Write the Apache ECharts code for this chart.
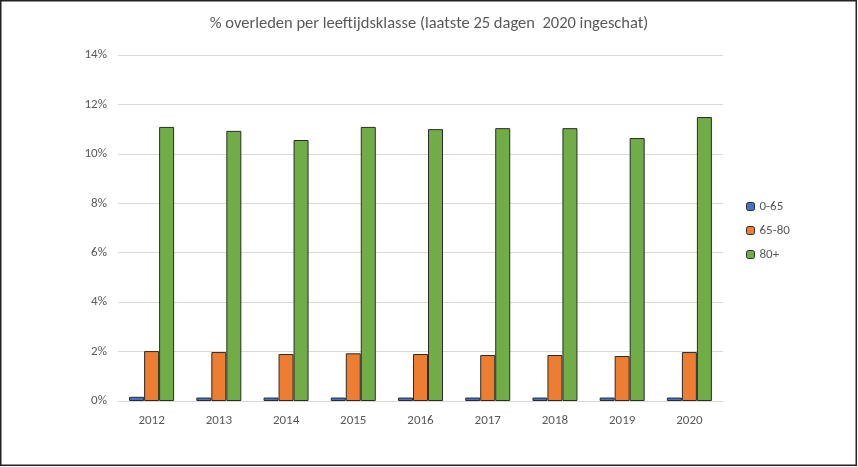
<!DOCTYPE html>
<html>
<head>
<meta charset="utf-8">
<script src="https://cdn.jsdelivr.net/npm/echarts@6/dist/echarts.min.js"></script>
<style>html,body{margin:0;padding:0;background:#fff;}#c{width:858px;height:467px;}</style>
</head>
<body>
<div id="c"></div>
<script>
const categories = ['2012','2013','2014','2015','2016','2017','2018','2019','2020'];
const s0_65 = [0.17,0.14,0.14,0.14,0.14,0.14,0.14,0.14,0.14];
const s65_80 = [2.02,1.98,1.90,1.93,1.90,1.86,1.86,1.82,1.98];
const s80plus = [11.09,10.93,10.56,11.09,11.00,11.04,11.04,10.64,11.49];
const seriesNames = ['0-65','65-80','80+'];
const colors = ['#4472C4','#ED7D31','#70AD47'];

const chart = echarts.init(document.getElementById('c'));
const font = 'Calibri, Carlito, "Open Sans", "Liberation Sans", sans-serif';
const mk = (name, data, i) => ({
  name, type: 'bar', data,
  barWidth: 15, barGap: '0%', barCategoryGap: '33%',
  itemStyle: { color: colors[i], borderColor: '#2b2b2b', borderWidth: 1 }
});
chart.setOption({
  animation: false,
  title: { text: '% overleden per leeftijdsklasse (laatste 25 dagen  2020 ingeschat)', left: 'center', top: 10,
    textStyle: { fontFamily: font, fontSize: 16.5, fontWeight: 'normal', color: '#595959' } },
  graphic: [{ type: 'rect', shape: { x: 0.75, y: 0.75, width: 855.5, height: 464.5 }, style: { fill: 'none', stroke: '#222', lineWidth: 1.5 }, silent: true }],
  legend: { orient: 'vertical', left: 741, top: 195, itemWidth: 8, itemHeight: 8, itemGap: 11,
    textStyle: { fontFamily: font, fontSize: 13, color: '#595959' },
    data: seriesNames.map((n,i)=>({name:n, itemStyle:{color:colors[i], borderColor:'#2b2b2b', borderWidth:1}})) },
  grid: { left: 118, right: 135, top: 55, bottom: 66 },
  xAxis: { type: 'category', data: categories,
    axisLine: { lineStyle: { color: '#d9d9d9' } }, axisTick: { show: false },
    axisLabel: { fontFamily: font, fontSize: 13, color: '#595959', margin: 13 } },
  yAxis: { type: 'value', min: 0, max: 14, interval: 2,
    axisLabel: { formatter: '{value}%', fontFamily: font, fontSize: 13, color: '#595959', margin: 11 },
    splitLine: { lineStyle: { color: '#d9d9d9' } }, axisLine: { show: false }, axisTick: { show: false } },
  series: [mk(seriesNames[0], s0_65, 0), mk(seriesNames[1], s65_80, 1), mk(seriesNames[2], s80plus, 2)]
});
</script>
</body>
</html>
